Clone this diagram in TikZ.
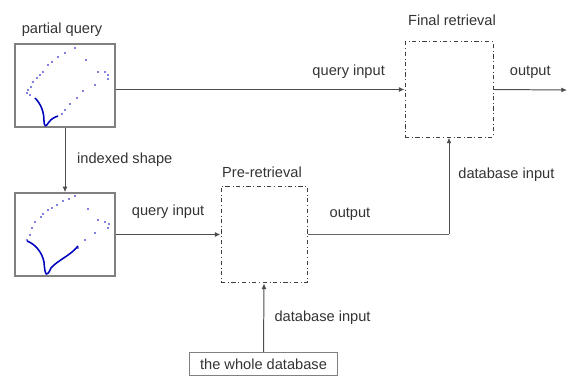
\documentclass[tikz,border=0pt]{standalone}
\usepackage{fontspec}
\setmainfont{Liberation Sans}
\usetikzlibrary{arrows.meta}
\begin{document}
\begin{tikzpicture}[x=0.025cm,y=-0.025cm,font=\fontsize{10.4}{12}\selectfont,text=black!80,
	imgbox/.style={draw=gray,line width=0.9pt,inner sep=0pt,minimum width=2.5cm,minimum height=2.08cm},
	stagebox/.style={draw=black!75,dash dot,line width=0.7pt,inner sep=0pt},
	dbbox/.style={draw=gray,line width=0.7pt,inner sep=0pt,minimum width=3.68cm,minimum height=0.58cm},
	flow/.style={draw=black!70,line width=0.7pt,-{Latex[length=4pt,width=3.5pt]}},
	wire/.style={draw=black!60,line width=0.7pt},
	pt/.style={fill=blue!75!black}]
	\useasboundingbox (0,0) rectangle (570,379);
	% boxes
	\node[imgbox] (pq) at (65,85.5) {};
	\node[imgbox] (iq) at (65,234.5) {};
	\node[stagebox,minimum width=2.15cm,minimum height=2.42cm] (pre) at (264,234.5) {};
	\node[stagebox,minimum width=2.2cm,minimum height=2.38cm] (fr) at (449,89.5) {};
	\node[dbbox] (db) at (263.5,364) {the whole database};
	\coordinate (out) at (567,90);
	% titles
	\node (pqlbl) at (62,30) {partial query};
	\node (frlbl) at (452,20) {Final retrieval};
	\node (prelbl) at (262,172) {Pre-retrieval};
	% partial query shape
	\foreach \p in {(75,48),(65,53),(58,57),(52,62),(48,65),(43,72),(40,75),(37,78),(33,82),(31,87),(28,90),(27,93),(30,95),
		(86,60),(98,72),(105,72),(108,75),(108,79),(95,85),(83,91),(77,98),(70,104),(65,110),(62,114)}
		\fill[pt] \p circle[radius=0.6pt];
	\draw[blue!75!black,line width=1.1pt] (35,98) .. controls (41,104) and (44,112) .. (44,121)
		.. controls (44,127) and (46,127) .. (49,122) .. controls (51,119) and (55,117) .. (58,116);
	% indexed shape
	\foreach \p in {(75,196),(69,199),(63,201),(57,205),(52,208),(48,210),(43,214),(41,217),(35,222),(32,228),(30,235),(27,240),
		(88,209),(98,220),(105,222),(109,224),(108,228),(95,233),(85,240),(78,248)}
		\fill[pt] \p circle[radius=0.6pt];
	\draw[blue!75!black,line width=1.1pt] (27,241) .. controls (35,244) and (42,252) .. (44,262)
		.. controls (45,277) and (47,277) .. (51,268) .. controls (58,260) and (70,256) .. (78,246);
	% connectors
	\draw[flow] (pq.east |- fr.west) -- (fr.west) node[midway,above=4pt,xshift=63pt] {query input};
	\draw[flow] (pq.south) -- (iq.north) node[midway,right=5pt] {indexed shape};
	\draw[flow] (fr.east) -- (out) node[midway,above=4pt] {output};
	\draw[flow] (iq.east) -- (pre.west) node[midway,above=8pt] {query input};
	\draw[wire] (pre.east) -- (fr.south |- pre.east) node[pos=0.3,above=6pt] {output};
	\draw[flow] (fr.south |- pre.east) -- (fr.south) node[pos=0.62,right=3pt] {database input};
	\draw[flow] (db.north) -- (pre.south) node[midway,right=4pt] {database input};
\end{tikzpicture}
\end{document}
